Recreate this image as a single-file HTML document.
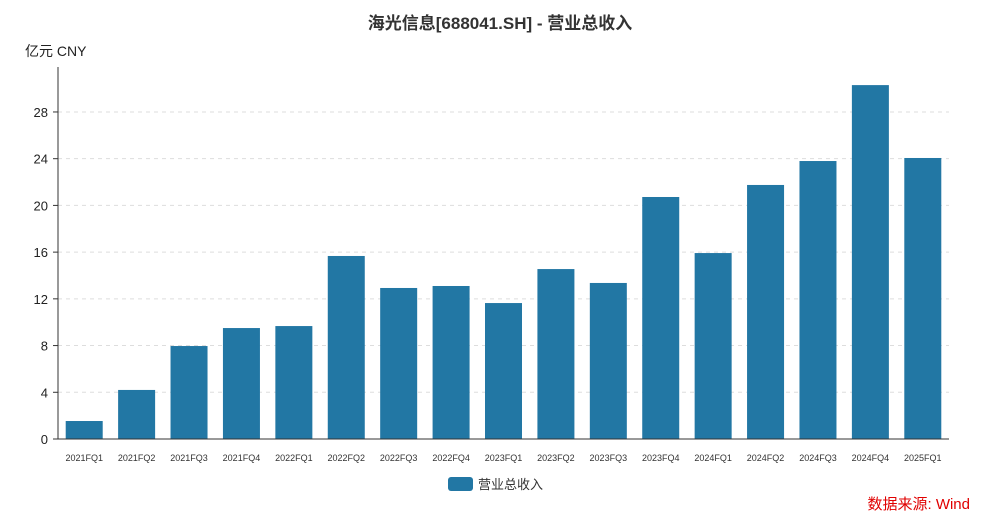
<!DOCTYPE html>
<html><head><meta charset="utf-8"><style>
body{margin:0;background:#fff;width:1000px;height:522px;overflow:hidden;font-family:"Liberation Sans","Noto Sans CJK SC",sans-serif}
</style></head><body>
<svg id="chart" width="1000" height="522" xmlns="http://www.w3.org/2000/svg" font-family="Liberation Sans, Noto Sans CJK SC, sans-serif">
<text x="500" y="29" text-anchor="middle" font-size="17" font-weight="bold" fill="#333">海光信息[688041.SH] - 营业总收入</text>
<text x="25" y="56" font-size="14" fill="#222">亿元  CNY</text>
<g id="grid"></g><g id="bars"></g><g id="axes"></g>
<rect x="448" y="477" width="25" height="14" rx="3" fill="#2277a4"/>
<text x="478" y="489" font-size="13" fill="#333">营业总收入</text>
<text x="970" y="509" text-anchor="end" font-size="15" fill="#e00000">数据来源: Wind</text>
</svg>
<script>
const categories=["2021FQ1","2021FQ2","2021FQ3","2021FQ4","2022FQ1","2022FQ2","2022FQ3","2022FQ4","2023FQ1","2023FQ2","2023FQ3","2023FQ4","2024FQ1","2024FQ2","2024FQ3","2024FQ4","2025FQ1"];
const values=[1.54,4.2,7.96,9.5,9.67,15.67,12.93,13.1,11.64,14.55,13.36,20.72,15.92,21.75,23.8,30.3,24.06];
const yTicks=[0,4,8,12,16,20,24,28];
const NS="http://www.w3.org/2000/svg";
const X0=58,X1=949,Y0=439,YTOP=67,YMAX=31.85;
const y=v=>Y0-(v/YMAX)*(Y0-YTOP);
const band=(X1-X0)/categories.length;
const x=i=>X0+band*i+band/2;
function mk(t,a,p){const e=document.createElementNS(NS,t);for(const k in a)e.setAttribute(k,a[k]);p.appendChild(e);return e;}
const grid=document.getElementById('grid'),bars=document.getElementById('bars'),axes=document.getElementById('axes');
yTicks.forEach(t=>{
 if(t>0){const g=mk('line',{x1:X0,x2:X1,y1:y(t),y2:y(t),stroke:'#ddd','stroke-dasharray':'4,4'},grid);
 
 }
 const tk=mk('line',{x1:X0-5,x2:X0,y1:y(t),y2:y(t),stroke:'#333'},axes);
 
 
 const l=mk('text',{x:X0-10,y:y(t)+5,'text-anchor':'end','font-size':13,fill:'#222'},axes);l.textContent=t;
 
 
});
const bw=37;
values.forEach((v,i)=>{
 const r=mk('rect',{x:x(i)-bw/2,y:y(v),width:bw,height:Y0-y(v),fill:'#2277a4'},bars);
 
 
 const l=mk('text',{x:x(i),y:Y0+22,'text-anchor':'middle','font-size':9,fill:'#333'},axes);l.textContent=categories[i];
 
 
});
const ya=mk('line',{x1:X0,x2:X0,y1:YTOP,y2:Y0,stroke:'#333'},axes);


const xa=mk('line',{x1:X0,x2:X1,y1:Y0,y2:Y0,stroke:'#333'},axes);


</script>
</body></html>
